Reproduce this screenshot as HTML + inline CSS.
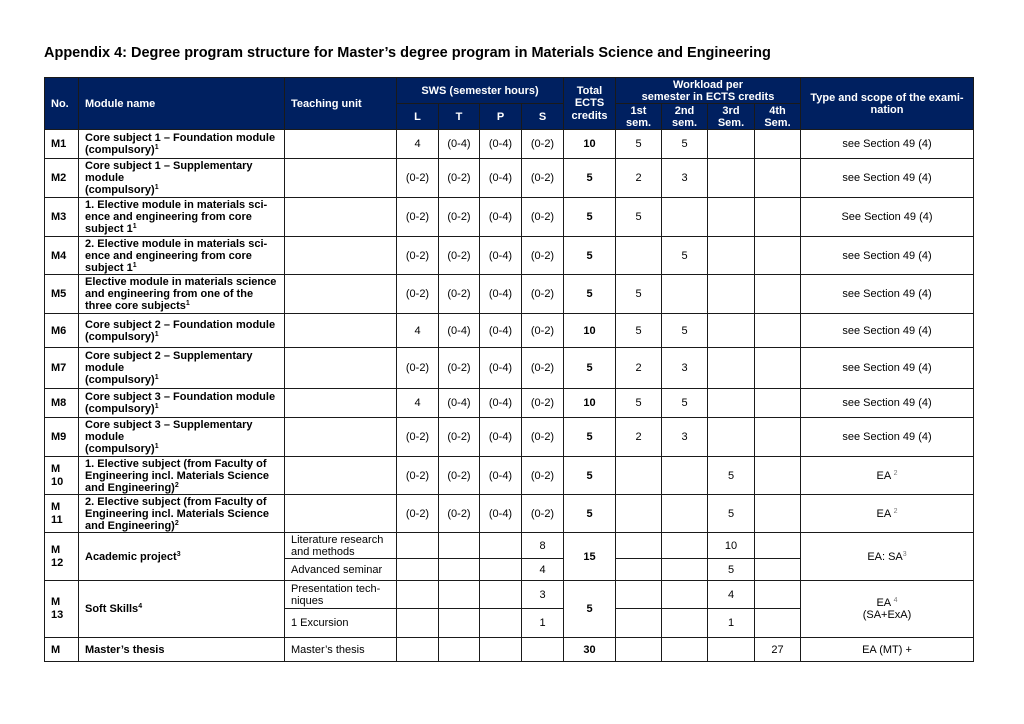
<!DOCTYPE html>
<html>
<head>
<meta charset="utf-8">
<style>
html,body{margin:0;padding:0;background:#fff;}
body{width:1024px;height:724px;overflow:hidden;position:relative;font-family:"Liberation Sans",Arial,sans-serif;color:#000;}
.title{position:absolute;left:44px;top:45px;font-size:14.5px;line-height:16px;font-weight:bold;white-space:nowrap;}
.r{position:absolute;left:0;width:1024px;}
.c{position:absolute;top:0;height:100%;box-sizing:border-box;border:1px solid #1a1a1a;display:flex;align-items:center;justify-content:center;text-align:center;font-size:11px;line-height:12px;white-space:nowrap;}
.c > div{display:block;}
.l{justify-content:flex-start;text-align:left;padding-left:6px;}
.b{font-weight:bold;}
.h{background:#002060;color:#fff;font-weight:bold;}
.k0{left:44px;width:35px;}
.k1{left:78px;width:207px;}
.k2{left:284px;width:113px;}
.k3{left:396px;width:43px;}
.k4{left:438px;width:42px;}
.k5{left:479px;width:43px;}
.k6{left:521px;width:43px;}
.k7{left:563px;width:53px;}
.k8{left:615px;width:47px;}
.k9{left:661px;width:47px;}
.k10{left:707px;width:48px;}
.k11{left:754px;width:47px;}
.k12{left:800px;width:174px;}
sup{font-size:7px;line-height:0;vertical-align:4px;}
.g{color:#777;font-size:7px;line-height:0;vertical-align:4px;}
</style>
</head>
<body>
<div class="title">Appendix 4: Degree program structure for Master’s degree program in Materials Science and Engineering</div>

<!-- Header -->
<div class="r" style="top:77px;height:53px">
  <div class="c h l k0"><div>No.</div></div>
  <div class="c h l k1"><div>Module name</div></div>
  <div class="c h l k2"><div>Teaching unit</div></div>
  <div class="c h" style="left:396px;width:168px;height:27px"><div>SWS (semester hours)</div></div>
  <div class="c h k3" style="top:26px;height:27px"><div>L</div></div>
  <div class="c h k4" style="top:26px;height:27px"><div>T</div></div>
  <div class="c h k5" style="top:26px;height:27px"><div>P</div></div>
  <div class="c h k6" style="top:26px;height:27px"><div>S</div></div>
  <div class="c h k7" style="line-height:12.5px"><div>Total<br>ECTS<br>credits</div></div>
  <div class="c h" style="left:615px;width:186px;height:27px"><div>Workload per<br>semester in ECTS credits</div></div>
  <div class="c h k8" style="top:26px;height:27px"><div>1st<br>sem.</div></div>
  <div class="c h k9" style="top:26px;height:27px"><div>2nd<br>sem.</div></div>
  <div class="c h k10" style="top:26px;height:27px"><div>3rd<br>Sem.</div></div>
  <div class="c h k11" style="top:26px;height:27px"><div>4th<br>Sem.</div></div>
  <div class="c h k12"><div>Type and scope of the exami-<br>nation</div></div>
</div>

<!-- M1 -->
<div class="r" style="top:129px;height:30px">
  <div class="c l b k0"><div>M1</div></div>
  <div class="c l b k1"><div>Core subject 1 – Foundation module<br>(compulsory)<sup>1</sup></div></div>
  <div class="c k2"></div>
  <div class="c k3"><div>4</div></div><div class="c k4"><div>(0-4)</div></div><div class="c k5"><div>(0-4)</div></div><div class="c k6"><div>(0-2)</div></div>
  <div class="c b k7"><div>10</div></div>
  <div class="c k8"><div>5</div></div><div class="c k9"><div>5</div></div><div class="c k10"></div><div class="c k11"></div>
  <div class="c k12"><div>see Section 49 (4)</div></div>
</div>

<!-- M2 -->
<div class="r" style="top:158px;height:40px">
  <div class="c l b k0"><div>M2</div></div>
  <div class="c l b k1"><div>Core subject 1 – Supplementary<br>module<br>(compulsory)<sup>1</sup></div></div>
  <div class="c k2"></div>
  <div class="c k3"><div>(0-2)</div></div><div class="c k4"><div>(0-2)</div></div><div class="c k5"><div>(0-4)</div></div><div class="c k6"><div>(0-2)</div></div>
  <div class="c b k7"><div>5</div></div>
  <div class="c k8"><div>2</div></div><div class="c k9"><div>3</div></div><div class="c k10"></div><div class="c k11"></div>
  <div class="c k12"><div>see Section 49 (4)</div></div>
</div>

<!-- M3 -->
<div class="r" style="top:197px;height:40px">
  <div class="c l b k0"><div>M3</div></div>
  <div class="c l b k1"><div>1. Elective module in materials sci-<br>ence and engineering from core<br>subject 1<sup>1</sup></div></div>
  <div class="c k2"></div>
  <div class="c k3"><div>(0-2)</div></div><div class="c k4"><div>(0-2)</div></div><div class="c k5"><div>(0-4)</div></div><div class="c k6"><div>(0-2)</div></div>
  <div class="c b k7"><div>5</div></div>
  <div class="c k8"><div>5</div></div><div class="c k9"></div><div class="c k10"></div><div class="c k11"></div>
  <div class="c k12"><div>See Section 49 (4)</div></div>
</div>

<!-- M4 -->
<div class="r" style="top:236px;height:39px">
  <div class="c l b k0"><div>M4</div></div>
  <div class="c l b k1"><div>2. Elective module in materials sci-<br>ence and engineering from core<br>subject 1<sup>1</sup></div></div>
  <div class="c k2"></div>
  <div class="c k3"><div>(0-2)</div></div><div class="c k4"><div>(0-2)</div></div><div class="c k5"><div>(0-4)</div></div><div class="c k6"><div>(0-2)</div></div>
  <div class="c b k7"><div>5</div></div>
  <div class="c k8"></div><div class="c k9"><div>5</div></div><div class="c k10"></div><div class="c k11"></div>
  <div class="c k12"><div>see Section 49 (4)</div></div>
</div>

<!-- M5 -->
<div class="r" style="top:274px;height:40px">
  <div class="c l b k0"><div>M5</div></div>
  <div class="c l b k1"><div>Elective module in materials science<br>and engineering from one of the<br>three core subjects<sup>1</sup></div></div>
  <div class="c k2"></div>
  <div class="c k3"><div>(0-2)</div></div><div class="c k4"><div>(0-2)</div></div><div class="c k5"><div>(0-4)</div></div><div class="c k6"><div>(0-2)</div></div>
  <div class="c b k7"><div>5</div></div>
  <div class="c k8"><div>5</div></div><div class="c k9"></div><div class="c k10"></div><div class="c k11"></div>
  <div class="c k12"><div>see Section 49 (4)</div></div>
</div>

<!-- M6 -->
<div class="r" style="top:313px;height:35px">
  <div class="c l b k0"><div>M6</div></div>
  <div class="c l b k1"><div>Core subject 2 – Foundation module<br>(compulsory)<sup>1</sup></div></div>
  <div class="c k2"></div>
  <div class="c k3"><div>4</div></div><div class="c k4"><div>(0-4)</div></div><div class="c k5"><div>(0-4)</div></div><div class="c k6"><div>(0-2)</div></div>
  <div class="c b k7"><div>10</div></div>
  <div class="c k8"><div>5</div></div><div class="c k9"><div>5</div></div><div class="c k10"></div><div class="c k11"></div>
  <div class="c k12"><div>see Section 49 (4)</div></div>
</div>

<!-- M7 -->
<div class="r" style="top:347px;height:42px">
  <div class="c l b k0"><div>M7</div></div>
  <div class="c l b k1"><div>Core subject 2 – Supplementary<br>module<br>(compulsory)<sup>1</sup></div></div>
  <div class="c k2"></div>
  <div class="c k3"><div>(0-2)</div></div><div class="c k4"><div>(0-2)</div></div><div class="c k5"><div>(0-4)</div></div><div class="c k6"><div>(0-2)</div></div>
  <div class="c b k7"><div>5</div></div>
  <div class="c k8"><div>2</div></div><div class="c k9"><div>3</div></div><div class="c k10"></div><div class="c k11"></div>
  <div class="c k12"><div>see Section 49 (4)</div></div>
</div>

<!-- M8 -->
<div class="r" style="top:388px;height:30px">
  <div class="c l b k0"><div>M8</div></div>
  <div class="c l b k1"><div>Core subject 3 – Foundation module<br>(compulsory)<sup>1</sup></div></div>
  <div class="c k2"></div>
  <div class="c k3"><div>4</div></div><div class="c k4"><div>(0-4)</div></div><div class="c k5"><div>(0-4)</div></div><div class="c k6"><div>(0-2)</div></div>
  <div class="c b k7"><div>10</div></div>
  <div class="c k8"><div>5</div></div><div class="c k9"><div>5</div></div><div class="c k10"></div><div class="c k11"></div>
  <div class="c k12"><div>see Section 49 (4)</div></div>
</div>

<!-- M9 -->
<div class="r" style="top:417px;height:40px">
  <div class="c l b k0"><div>M9</div></div>
  <div class="c l b k1"><div>Core subject 3 – Supplementary<br>module<br>(compulsory)<sup>1</sup></div></div>
  <div class="c k2"></div>
  <div class="c k3"><div>(0-2)</div></div><div class="c k4"><div>(0-2)</div></div><div class="c k5"><div>(0-4)</div></div><div class="c k6"><div>(0-2)</div></div>
  <div class="c b k7"><div>5</div></div>
  <div class="c k8"><div>2</div></div><div class="c k9"><div>3</div></div><div class="c k10"></div><div class="c k11"></div>
  <div class="c k12"><div>see Section 49 (4)</div></div>
</div>

<!-- M10 -->
<div class="r" style="top:456px;height:39px">
  <div class="c l b k0" style="line-height:13px"><div>M<br>10</div></div>
  <div class="c l b k1"><div>1. Elective subject (from Faculty of<br>Engineering incl. Materials Science<br>and Engineering)<sup>2</sup></div></div>
  <div class="c k2"></div>
  <div class="c k3"><div>(0-2)</div></div><div class="c k4"><div>(0-2)</div></div><div class="c k5"><div>(0-4)</div></div><div class="c k6"><div>(0-2)</div></div>
  <div class="c b k7"><div>5</div></div>
  <div class="c k8"></div><div class="c k9"></div><div class="c k10"><div>5</div></div><div class="c k11"></div>
  <div class="c k12"><div>EA <span class="g">2</span></div></div>
</div>

<!-- M11 -->
<div class="r" style="top:494px;height:39px">
  <div class="c l b k0" style="line-height:13px"><div>M<br>11</div></div>
  <div class="c l b k1"><div>2. Elective subject (from Faculty of<br>Engineering incl. Materials Science<br>and Engineering)<sup>2</sup></div></div>
  <div class="c k2"></div>
  <div class="c k3"><div>(0-2)</div></div><div class="c k4"><div>(0-2)</div></div><div class="c k5"><div>(0-4)</div></div><div class="c k6"><div>(0-2)</div></div>
  <div class="c b k7"><div>5</div></div>
  <div class="c k8"></div><div class="c k9"></div><div class="c k10"><div>5</div></div><div class="c k11"></div>
  <div class="c k12"><div>EA <span class="g">2</span></div></div>
</div>

<!-- M12 -->
<div class="r" style="top:532px;height:49px">
  <div class="c l b k0" style="line-height:13px"><div>M<br>12</div></div>
  <div class="c l b k1"><div>Academic project<sup>3</sup></div></div>
  <div class="c l k2" style="height:27px"><div>Literature research<br>and methods</div></div>
  <div class="c l k2" style="top:26px;height:23px"><div>Advanced seminar</div></div>
  <div class="c k3" style="height:27px"></div><div class="c k3" style="top:26px;height:23px"></div>
  <div class="c k4" style="height:27px"></div><div class="c k4" style="top:26px;height:23px"></div>
  <div class="c k5" style="height:27px"></div><div class="c k5" style="top:26px;height:23px"></div>
  <div class="c k6" style="height:27px"><div>8</div></div><div class="c k6" style="top:26px;height:23px"><div>4</div></div>
  <div class="c b k7"><div>15</div></div>
  <div class="c k8" style="height:27px"></div><div class="c k8" style="top:26px;height:23px"></div>
  <div class="c k9" style="height:27px"></div><div class="c k9" style="top:26px;height:23px"></div>
  <div class="c k10" style="height:27px"><div>10</div></div><div class="c k10" style="top:26px;height:23px"><div>5</div></div>
  <div class="c k11" style="height:27px"></div><div class="c k11" style="top:26px;height:23px"></div>
  <div class="c k12"><div>EA: SA<span class="g">3</span></div></div>
</div>

<!-- M13 -->
<div class="r" style="top:580px;height:58px">
  <div class="c l b k0" style="line-height:13px"><div>M<br>13</div></div>
  <div class="c l b k1"><div>Soft Skills<sup>4</sup></div></div>
  <div class="c l k2" style="height:29px"><div>Presentation tech-<br>niques</div></div>
  <div class="c l k2" style="top:28px;height:30px"><div>1 Excursion</div></div>
  <div class="c k3" style="height:29px"></div><div class="c k3" style="top:28px;height:30px"></div>
  <div class="c k4" style="height:29px"></div><div class="c k4" style="top:28px;height:30px"></div>
  <div class="c k5" style="height:29px"></div><div class="c k5" style="top:28px;height:30px"></div>
  <div class="c k6" style="height:29px"><div>3</div></div><div class="c k6" style="top:28px;height:30px"><div>1</div></div>
  <div class="c b k7"><div>5</div></div>
  <div class="c k8" style="height:29px"></div><div class="c k8" style="top:28px;height:30px"></div>
  <div class="c k9" style="height:29px"></div><div class="c k9" style="top:28px;height:30px"></div>
  <div class="c k10" style="height:29px"><div>4</div></div><div class="c k10" style="top:28px;height:30px"><div>1</div></div>
  <div class="c k11" style="height:29px"></div><div class="c k11" style="top:28px;height:30px"></div>
  <div class="c k12"><div>EA <span class="g">4</span><br>(SA+ExA)</div></div>
</div>

<!-- M thesis -->
<div class="r" style="top:637px;height:25px">
  <div class="c l b k0"><div>M</div></div>
  <div class="c l b k1"><div>Master’s thesis</div></div>
  <div class="c l k2"><div>Master’s thesis</div></div>
  <div class="c k3"></div><div class="c k4"></div><div class="c k5"></div><div class="c k6"></div>
  <div class="c b k7"><div>30</div></div>
  <div class="c k8"></div><div class="c k9"></div><div class="c k10"></div><div class="c k11"><div>27</div></div>
  <div class="c k12"><div>EA (MT) +</div></div>
</div>
</body>
</html>
